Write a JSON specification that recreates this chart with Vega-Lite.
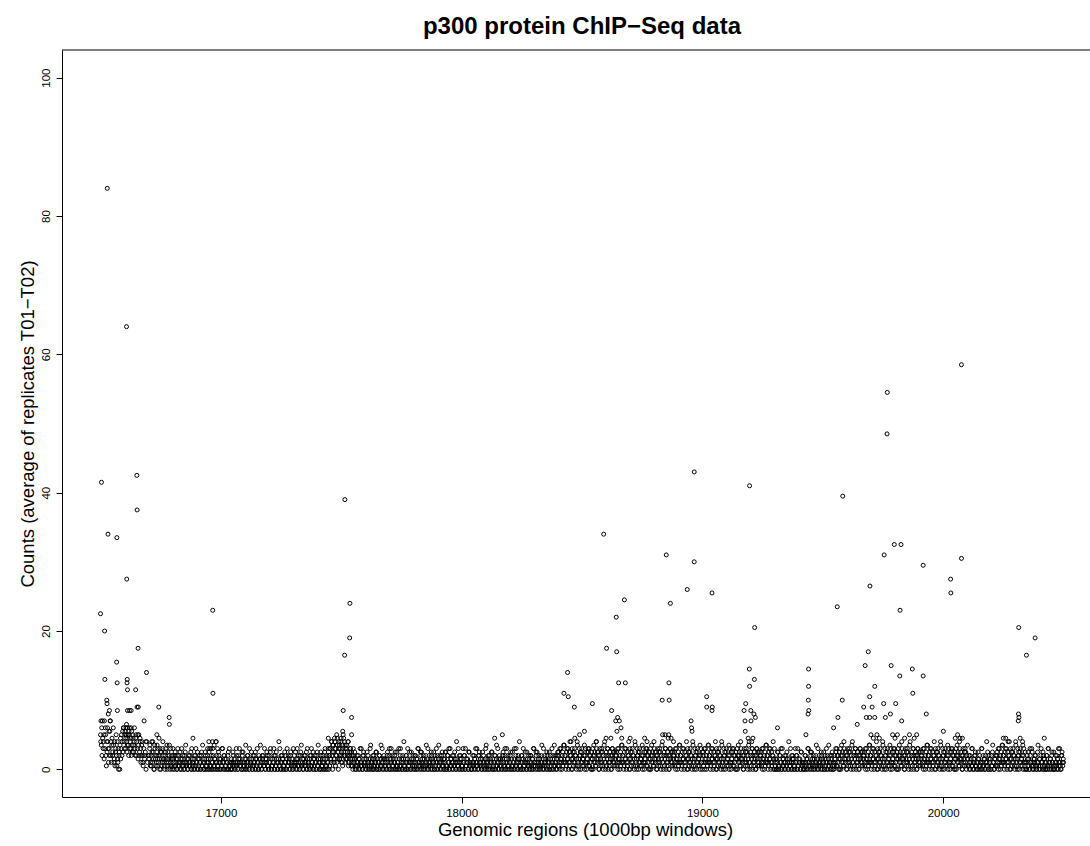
{
"$schema": "https://vega.github.io/schema/vega-lite/v6.json",
"width": 1028, "height": 747,
"autosize": {"type": "none"},
"padding": {"left": 62, "top": 50, "right": 0, "bottom": 49},
"background": "white",
"config": {"view": {"stroke": null}, "font": "Liberation Sans"},
"title": {"text": "p300 protein ChIP−Seq data", "fontSize": 24, "fontWeight": "bold", "font": "Liberation Sans", "color": "black", "anchor": "middle", "baseline": "alphabetic", "offset": 17, "dx": 6, "dy": 25},
"layer": [
{"data": {"values": [
{"x":16500,"y":5},{"x":16501,"y":4},{"x":16503,"y":3.5},{"x":16505,"y":6},{"x":16506,"y":2},{"x":16508,"y":7},{"x":16509,"y":4.5},{"x":16511,"y":3},{"x":16512,"y":4},{"x":16514,"y":5},{"x":16515,"y":1.5},{"x":16518,"y":3},{"x":16520,"y":6},{"x":16521,"y":5},{"x":16523,"y":2},{"x":16524,"y":0.5},{"x":16526,"y":4},{"x":16527,"y":2.5},{"x":16529,"y":6},{"x":16530,"y":4},{"x":16532,"y":3},{"x":16533,"y":1},{"x":16535,"y":5.5},{"x":16536,"y":3},{"x":16538,"y":2},{"x":16539,"y":5.5},{"x":16541,"y":7},{"x":16542,"y":2},{"x":16544,"y":4},{"x":16545,"y":1},{"x":16547,"y":3.5},{"x":16548,"y":4.5},{"x":16550,"y":2},{"x":16551,"y":2.5},{"x":16553,"y":6},{"x":16554,"y":3.5},{"x":16556,"y":1},{"x":16557,"y":1.5},{"x":16559,"y":4},{"x":16560,"y":0.5},{"x":16562,"y":2.5},{"x":16563,"y":3},{"x":16565,"y":5},{"x":16566,"y":2},{"x":16568,"y":0.5},{"x":16569,"y":4},{"x":16571,"y":1.5},{"x":16572,"y":1},{"x":16574,"y":3},{"x":16575,"y":0},{"x":16577,"y":2},{"x":16578,"y":2.5},{"x":16580,"y":0},{"x":16581,"y":3.5},{"x":16583,"y":4.5},{"x":16584,"y":1.5},{"x":16586,"y":3},{"x":16587,"y":5},{"x":16589,"y":2},{"x":16590,"y":4},{"x":16592,"y":5.5},{"x":16593,"y":2.5},{"x":16595,"y":6},{"x":16596,"y":6},{"x":16598,"y":4},{"x":16599,"y":3},{"x":16601,"y":5},{"x":16602,"y":5.5},{"x":16604,"y":3},{"x":16605,"y":4.5},{"x":16606,"y":6},{"x":16607,"y":5},{"x":16608,"y":6.5},{"x":16609,"y":4},{"x":16610,"y":2.5},{"x":16611,"y":3.5},{"x":16612,"y":6},{"x":16613,"y":4.5},{"x":16614,"y":5},{"x":16616,"y":3.5},{"x":16617,"y":2},{"x":16618,"y":5.5},{"x":16619,"y":5},{"x":16620,"y":6},{"x":16622,"y":3},{"x":16623,"y":4},{"x":16625,"y":4.5},{"x":16626,"y":3},{"x":16627,"y":6},{"x":16628,"y":2},{"x":16629,"y":5.5},{"x":16631,"y":3.5},{"x":16632,"y":2.5},{"x":16634,"y":5},{"x":16635,"y":4.5},{"x":16637,"y":2.5},{"x":16638,"y":3.5},{"x":16640,"y":4},{"x":16641,"y":6},{"x":16643,"y":3},{"x":16644,"y":2},{"x":16646,"y":4.5},{"x":16647,"y":5},{"x":16649,"y":2},{"x":16650,"y":4},{"x":16653,"y":3},{"x":16655,"y":5},{"x":16656,"y":1.5},{"x":16658,"y":3.5},{"x":16659,"y":5},{"x":16661,"y":2},{"x":16662,"y":2.5},{"x":16664,"y":4.5},{"x":16665,"y":4},{"x":16667,"y":3},{"x":16668,"y":1},{"x":16670,"y":2},{"x":16671,"y":3.5},{"x":16673,"y":4},{"x":16674,"y":2},{"x":16676,"y":1},{"x":16677,"y":0.5},{"x":16680,"y":3},{"x":16682,"y":2},{"x":16683,"y":1.5},{"x":16686,"y":2.5},{"x":16688,"y":4},{"x":16689,"y":0},{"x":16692,"y":4},{"x":16695,"y":1},{"x":16698,"y":2},
{"x":16701,"y":1.5},{"x":16704,"y":3},{"x":16707,"y":0.5},{"x":16710,"y":2},{"x":16713,"y":4},{"x":16716,"y":1},{"x":16719,"y":2.5},{"x":16722,"y":0},{"x":16725,"y":3.5},{"x":16728,"y":1.5},{"x":16731,"y":0.5},{"x":16734,"y":2},{"x":16737,"y":3},{"x":16740,"y":1},{"x":16743,"y":4.5},{"x":16746,"y":0},{"x":16749,"y":2.5},{"x":16752,"y":1.5},{"x":16755,"y":0.5},{"x":16758,"y":3},{"x":16761,"y":2},{"x":16764,"y":1},{"x":16767,"y":0},{"x":16770,"y":2.5},{"x":16773,"y":1.5},{"x":16776,"y":3.5},{"x":16779,"y":0.5},{"x":16782,"y":1},{"x":16785,"y":2},{"x":16788,"y":0},{"x":16791,"y":3},{"x":16794,"y":1.5},{"x":16797,"y":0.5},{"x":16800,"y":2},
{"x":16803,"y":1},{"x":16806,"y":0},{"x":16809,"y":2},{"x":16812,"y":0.5},{"x":16815,"y":1.5},{"x":16818,"y":0},{"x":16821,"y":3},{"x":16824,"y":1},{"x":16827,"y":0.5},{"x":16830,"y":2.5},{"x":16833,"y":1},{"x":16836,"y":0},{"x":16839,"y":1.5},{"x":16842,"y":2},{"x":16845,"y":0.5},{"x":16848,"y":0},{"x":16851,"y":1},{"x":16854,"y":3.5},{"x":16857,"y":0.5},{"x":16860,"y":1.5},{"x":16863,"y":0},{"x":16866,"y":2},{"x":16869,"y":1},{"x":16872,"y":0.5},{"x":16875,"y":2.5},{"x":16878,"y":0},{"x":16881,"y":1.5},{"x":16884,"y":1},{"x":16887,"y":0},{"x":16890,"y":2},{"x":16893,"y":0.5},{"x":16896,"y":3},{"x":16899,"y":1},{"x":16902,"y":0},{"x":16905,"y":1.5},{"x":16908,"y":0.5},{"x":16911,"y":2},{"x":16914,"y":1},{"x":16917,"y":0},{"x":16920,"y":2.5},
{"x":16923,"y":0.5},{"x":16926,"y":1.5},{"x":16929,"y":0},{"x":16932,"y":1},{"x":16935,"y":2.5},{"x":16938,"y":0},{"x":16941,"y":0.5},{"x":16944,"y":2},{"x":16947,"y":1},{"x":16950,"y":0},{"x":16953,"y":3},{"x":16956,"y":1.5},{"x":16959,"y":0.5},{"x":16962,"y":0},{"x":16965,"y":1},{"x":16968,"y":2},{"x":16971,"y":0.5},{"x":16974,"y":1.5},{"x":16977,"y":0},{"x":16980,"y":4},{"x":16983,"y":1},{"x":16986,"y":0.5},{"x":16989,"y":0},{"x":16992,"y":2},{"x":16995,"y":1.5},{"x":16998,"y":1},{"x":17001,"y":0},{"x":17004,"y":0.5},{"x":17007,"y":3},{"x":17010,"y":1},{"x":17013,"y":2},{"x":17016,"y":0},{"x":17019,"y":0.5},{"x":17022,"y":1.5},{"x":17025,"y":1},{"x":17028,"y":0},{"x":17031,"y":2.5},{"x":17034,"y":0.5},{"x":17037,"y":1},{"x":17040,"y":0},
{"x":17043,"y":0},{"x":17046,"y":1},{"x":17049,"y":0.5},{"x":17052,"y":2},{"x":17055,"y":1.5},{"x":17058,"y":0},{"x":17061,"y":1},{"x":17064,"y":3},{"x":17067,"y":0.5},{"x":17070,"y":0},{"x":17073,"y":2},{"x":17076,"y":1},{"x":17079,"y":1.5},{"x":17082,"y":0.5},{"x":17085,"y":0},{"x":17088,"y":2.5},{"x":17091,"y":1},{"x":17094,"y":0},{"x":17097,"y":0.5},{"x":17100,"y":1.5},{"x":17103,"y":3.5},{"x":17106,"y":0},{"x":17109,"y":1},{"x":17112,"y":2},{"x":17115,"y":0.5},{"x":17118,"y":0},{"x":17121,"y":1.5},{"x":17124,"y":1},{"x":17127,"y":2.5},{"x":17130,"y":0},{"x":17133,"y":0.5},{"x":17136,"y":1},{"x":17139,"y":2},{"x":17142,"y":0},{"x":17145,"y":1.5},{"x":17148,"y":0.5},{"x":17151,"y":3},{"x":17154,"y":1},{"x":17157,"y":0},{"x":17160,"y":1.5},
{"x":17163,"y":1.5},{"x":17166,"y":0.5},{"x":17169,"y":0},{"x":17172,"y":2},{"x":17175,"y":1},{"x":17178,"y":0.5},{"x":17181,"y":3},{"x":17184,"y":0},{"x":17187,"y":1.5},{"x":17190,"y":1},{"x":17193,"y":2},{"x":17196,"y":0.5},{"x":17199,"y":0},{"x":17202,"y":1},{"x":17205,"y":2.5},{"x":17208,"y":1.5},{"x":17211,"y":0},{"x":17214,"y":0.5},{"x":17217,"y":1},{"x":17220,"y":3},{"x":17223,"y":0},{"x":17226,"y":2},{"x":17229,"y":0.5},{"x":17232,"y":1.5},{"x":17235,"y":0},{"x":17238,"y":1},{"x":17241,"y":4},{"x":17244,"y":0.5},{"x":17247,"y":0},{"x":17250,"y":2},{"x":17253,"y":1},{"x":17256,"y":1.5},{"x":17259,"y":0},{"x":17262,"y":0.5},{"x":17265,"y":2.5},{"x":17268,"y":1},{"x":17271,"y":0},{"x":17274,"y":1.5},{"x":17277,"y":0.5},{"x":17280,"y":2},
{"x":17283,"y":1},{"x":17286,"y":0},{"x":17289,"y":2},{"x":17292,"y":0.5},{"x":17295,"y":1.5},{"x":17298,"y":0},{"x":17301,"y":3},{"x":17304,"y":1},{"x":17307,"y":0.5},{"x":17310,"y":2.5},{"x":17313,"y":1},{"x":17316,"y":0},{"x":17319,"y":1.5},{"x":17322,"y":2},{"x":17325,"y":0.5},{"x":17328,"y":0},{"x":17331,"y":1},{"x":17334,"y":3.5},{"x":17337,"y":0.5},{"x":17340,"y":1.5},{"x":17343,"y":0},{"x":17346,"y":2},{"x":17349,"y":1},{"x":17352,"y":0.5},{"x":17355,"y":2.5},{"x":17358,"y":0},{"x":17361,"y":1.5},{"x":17364,"y":1},{"x":17367,"y":0},{"x":17370,"y":2},{"x":17373,"y":0.5},{"x":17376,"y":3},{"x":17379,"y":1},{"x":17382,"y":0},{"x":17385,"y":1.5},{"x":17388,"y":0.5},{"x":17391,"y":2},{"x":17394,"y":1},{"x":17397,"y":0},{"x":17400,"y":2.5},
{"x":17403,"y":0.5},{"x":17406,"y":1.5},{"x":17409,"y":0},{"x":17412,"y":1},{"x":17415,"y":2.5},{"x":17418,"y":0},{"x":17421,"y":0.5},{"x":17424,"y":2},{"x":17427,"y":1},{"x":17430,"y":0},{"x":17433,"y":3},{"x":17436,"y":1.5},{"x":17439,"y":0.5},{"x":17442,"y":0},{"x":17445,"y":1},{"x":17448,"y":2},
{"x":17451,"y":2},{"x":17454,"y":3},{"x":17457,"y":1.5},{"x":17460,"y":4},{"x":17463,"y":2.5},{"x":17466,"y":3.5},{"x":17469,"y":1},{"x":17472,"y":4.5},{"x":17475,"y":3},{"x":17478,"y":2},{"x":17481,"y":5},{"x":17484,"y":3.5},{"x":17487,"y":2.5},{"x":17490,"y":4},{"x":17493,"y":1.5},{"x":17496,"y":3},{"x":17499,"y":4.5},{"x":17502,"y":2},{"x":17505,"y":3.5},{"x":17508,"y":5},{"x":17511,"y":2.5},{"x":17514,"y":4},{"x":17517,"y":3},{"x":17520,"y":1.5},{"x":17523,"y":3.5},{"x":17526,"y":2},{"x":17529,"y":4},{"x":17532,"y":1},{"x":17535,"y":2.5},{"x":17538,"y":3},{"x":17541,"y":0.5},{"x":17544,"y":2},{"x":17547,"y":1.5},{"x":17550,"y":3},{"x":17553,"y":1},{"x":17556,"y":2.5},{"x":17559,"y":0.5},
{"x":17452,"y":0.5},{"x":17458,"y":1},{"x":17464,"y":0},{"x":17470,"y":1.5},{"x":17476,"y":0.5},{"x":17482,"y":1},{"x":17488,"y":0},{"x":17494,"y":1.5},{"x":17500,"y":1},{"x":17506,"y":0.5},{"x":17512,"y":2},{"x":17518,"y":1},{"x":17524,"y":1.5},{"x":17530,"y":0.5},{"x":17536,"y":2},{"x":17542,"y":1},{"x":17548,"y":0},{"x":17554,"y":1.5},
{"x":17562,"y":0},{"x":17565,"y":1},{"x":17568,"y":0.5},{"x":17571,"y":2},{"x":17574,"y":1.5},{"x":17577,"y":0},{"x":17580,"y":1},{"x":17583,"y":3},{"x":17586,"y":0.5},{"x":17589,"y":0},{"x":17592,"y":2},{"x":17595,"y":1},{"x":17598,"y":1.5},{"x":17601,"y":0.5},{"x":17604,"y":0},{"x":17607,"y":2.5},{"x":17610,"y":1},{"x":17613,"y":0},{"x":17616,"y":0.5},{"x":17619,"y":1.5},{"x":17622,"y":3.5},{"x":17625,"y":0},{"x":17628,"y":1},{"x":17631,"y":2},{"x":17634,"y":0.5},{"x":17637,"y":0},{"x":17640,"y":1.5},{"x":17643,"y":1},{"x":17646,"y":2.5},{"x":17649,"y":0},{"x":17652,"y":0.5},{"x":17655,"y":1},{"x":17658,"y":2},{"x":17661,"y":0},{"x":17664,"y":1.5},{"x":17667,"y":0.5},{"x":17670,"y":3},{"x":17673,"y":1},{"x":17676,"y":0},{"x":17679,"y":1.5},
{"x":17682,"y":1.5},{"x":17685,"y":0.5},{"x":17688,"y":0},{"x":17691,"y":2},{"x":17694,"y":1},{"x":17697,"y":0.5},{"x":17700,"y":3},{"x":17703,"y":0},{"x":17706,"y":1.5},{"x":17709,"y":1},{"x":17712,"y":2},{"x":17715,"y":0.5},{"x":17718,"y":0},{"x":17721,"y":1},{"x":17724,"y":2.5},{"x":17727,"y":1.5},{"x":17730,"y":0},{"x":17733,"y":0.5},{"x":17736,"y":1},{"x":17739,"y":3},{"x":17742,"y":0},{"x":17745,"y":2},{"x":17748,"y":0.5},{"x":17751,"y":1.5},{"x":17754,"y":0},{"x":17757,"y":1},{"x":17760,"y":4},{"x":17763,"y":0.5},{"x":17766,"y":0},{"x":17769,"y":2},{"x":17772,"y":1},{"x":17775,"y":1.5},{"x":17778,"y":0},{"x":17781,"y":0.5},{"x":17784,"y":2.5},{"x":17787,"y":1},{"x":17790,"y":0},{"x":17793,"y":1.5},{"x":17796,"y":0.5},{"x":17799,"y":2},
{"x":17802,"y":1},{"x":17805,"y":0},{"x":17808,"y":2},{"x":17811,"y":0.5},{"x":17814,"y":1.5},{"x":17817,"y":0},{"x":17820,"y":3},{"x":17823,"y":1},{"x":17826,"y":0.5},{"x":17829,"y":2.5},{"x":17832,"y":1},{"x":17835,"y":0},{"x":17838,"y":1.5},{"x":17841,"y":2},{"x":17844,"y":0.5},{"x":17847,"y":0},{"x":17850,"y":1},{"x":17853,"y":3.5},{"x":17856,"y":0.5},{"x":17859,"y":1.5},{"x":17862,"y":0},{"x":17865,"y":2},{"x":17868,"y":1},{"x":17871,"y":0.5},{"x":17874,"y":2.5},{"x":17877,"y":0},{"x":17880,"y":1.5},{"x":17883,"y":1},{"x":17886,"y":0},{"x":17889,"y":2},{"x":17892,"y":0.5},{"x":17895,"y":3},{"x":17898,"y":1},{"x":17901,"y":0},{"x":17904,"y":1.5},{"x":17907,"y":0.5},{"x":17910,"y":2},{"x":17913,"y":1},{"x":17916,"y":0},{"x":17919,"y":2.5},
{"x":17922,"y":0.5},{"x":17925,"y":1.5},{"x":17928,"y":0},{"x":17931,"y":1},{"x":17934,"y":2.5},{"x":17937,"y":0},{"x":17940,"y":0.5},{"x":17943,"y":2},{"x":17946,"y":1},{"x":17949,"y":0},{"x":17952,"y":3},{"x":17955,"y":1.5},{"x":17958,"y":0.5},{"x":17961,"y":0},{"x":17964,"y":1},{"x":17967,"y":2},{"x":17970,"y":0.5},{"x":17973,"y":1.5},{"x":17976,"y":0},{"x":17979,"y":4},{"x":17982,"y":1},{"x":17985,"y":0.5},{"x":17988,"y":0},{"x":17991,"y":2},{"x":17994,"y":1.5},{"x":17997,"y":1},{"x":18000,"y":0},{"x":18003,"y":0.5},{"x":18006,"y":3},{"x":18009,"y":1},{"x":18012,"y":2},{"x":18015,"y":0},{"x":18018,"y":0.5},{"x":18021,"y":1.5},{"x":18024,"y":1},{"x":18027,"y":0},{"x":18030,"y":2.5},{"x":18033,"y":0.5},{"x":18036,"y":1},{"x":18039,"y":0},
{"x":18042,"y":0},{"x":18045,"y":1},{"x":18048,"y":0.5},{"x":18051,"y":2},{"x":18054,"y":1.5},{"x":18057,"y":0},{"x":18060,"y":1},{"x":18063,"y":3},{"x":18066,"y":0.5},{"x":18069,"y":0},{"x":18072,"y":2},{"x":18075,"y":1},{"x":18078,"y":1.5},{"x":18081,"y":0.5},{"x":18084,"y":0},{"x":18087,"y":2.5},{"x":18090,"y":1},{"x":18093,"y":0},{"x":18096,"y":0.5},{"x":18099,"y":1.5},{"x":18102,"y":3.5},{"x":18105,"y":0},{"x":18108,"y":1},{"x":18111,"y":2},{"x":18114,"y":0.5},{"x":18117,"y":0},{"x":18120,"y":1.5},{"x":18123,"y":1},{"x":18126,"y":2.5},{"x":18129,"y":0},{"x":18132,"y":0.5},{"x":18135,"y":1},{"x":18138,"y":2},{"x":18141,"y":0},{"x":18144,"y":1.5},{"x":18147,"y":0.5},{"x":18150,"y":3},{"x":18153,"y":1},{"x":18156,"y":0},{"x":18159,"y":1.5},
{"x":18162,"y":1.5},{"x":18165,"y":0.5},{"x":18168,"y":0},{"x":18171,"y":2},{"x":18174,"y":1},{"x":18177,"y":0.5},{"x":18180,"y":3},{"x":18183,"y":0},{"x":18186,"y":1.5},{"x":18189,"y":1},{"x":18192,"y":2},{"x":18195,"y":0.5},{"x":18198,"y":0},{"x":18201,"y":1},{"x":18204,"y":2.5},{"x":18207,"y":1.5},{"x":18210,"y":0},{"x":18213,"y":0.5},{"x":18216,"y":1},{"x":18219,"y":3},{"x":18222,"y":0},{"x":18225,"y":2},{"x":18228,"y":0.5},{"x":18231,"y":1.5},{"x":18234,"y":0},{"x":18237,"y":1},{"x":18240,"y":4},{"x":18243,"y":0.5},{"x":18246,"y":0},{"x":18249,"y":2},{"x":18252,"y":1},{"x":18255,"y":1.5},{"x":18258,"y":0},{"x":18261,"y":0.5},{"x":18264,"y":2.5},{"x":18267,"y":1},{"x":18270,"y":0},{"x":18273,"y":1.5},{"x":18276,"y":0.5},{"x":18279,"y":2},
{"x":18282,"y":1},{"x":18285,"y":0},{"x":18288,"y":2},{"x":18291,"y":0.5},{"x":18294,"y":1.5},{"x":18297,"y":0},{"x":18300,"y":3},{"x":18303,"y":1},{"x":18306,"y":0.5},{"x":18309,"y":2.5},{"x":18312,"y":1},{"x":18315,"y":0},{"x":18318,"y":1.5},{"x":18321,"y":2},{"x":18324,"y":0.5},{"x":18327,"y":0},{"x":18330,"y":1},{"x":18333,"y":3.5},{"x":18336,"y":0.5},{"x":18339,"y":1.5},{"x":18342,"y":0},{"x":18345,"y":2},{"x":18348,"y":1},{"x":18351,"y":0.5},{"x":18354,"y":2.5},{"x":18357,"y":0},{"x":18360,"y":1.5},{"x":18363,"y":1},{"x":18366,"y":0},{"x":18369,"y":2},{"x":18372,"y":0.5},{"x":18375,"y":3},{"x":18378,"y":1},{"x":18381,"y":0},{"x":18384,"y":1.5},{"x":18387,"y":0.5},{"x":18390,"y":2},{"x":18393,"y":1},{"x":18396,"y":0},{"x":18399,"y":2.5},
{"x":18402,"y":2},{"x":18405,"y":0.5},{"x":18408,"y":3},{"x":18411,"y":1.5},{"x":18414,"y":1},{"x":18417,"y":0},{"x":18420,"y":2.5},{"x":18423,"y":1},{"x":18426,"y":3.5},{"x":18429,"y":2},{"x":18432,"y":1},{"x":18435,"y":0.5},{"x":18438,"y":3},{"x":18441,"y":1.5},{"x":18444,"y":0},{"x":18447,"y":2.5},{"x":18450,"y":1},{"x":18453,"y":2},{"x":18456,"y":0},{"x":18459,"y":3},{"x":18462,"y":1.5},{"x":18465,"y":0.5},{"x":18468,"y":2.5},{"x":18471,"y":1},{"x":18474,"y":2},{"x":18477,"y":0},{"x":18480,"y":4},{"x":18483,"y":0.5},{"x":18486,"y":1.5},{"x":18489,"y":3},{"x":18492,"y":2},{"x":18495,"y":0},{"x":18498,"y":2.5},{"x":18501,"y":1},{"x":18504,"y":1.5},{"x":18507,"y":0.5},{"x":18510,"y":3.5},{"x":18513,"y":2},{"x":18516,"y":1},{"x":18519,"y":0},
{"x":18522,"y":1.5},{"x":18525,"y":3},{"x":18528,"y":0.5},{"x":18531,"y":2},{"x":18534,"y":1},{"x":18537,"y":0},{"x":18540,"y":2.5},{"x":18543,"y":1.5},{"x":18546,"y":0},{"x":18549,"y":3.5},{"x":18552,"y":2},{"x":18555,"y":1},{"x":18558,"y":0.5},{"x":18561,"y":3},{"x":18564,"y":2.5},{"x":18567,"y":1.5},{"x":18570,"y":0},{"x":18573,"y":2},{"x":18576,"y":1},{"x":18579,"y":0.5},{"x":18582,"y":3},{"x":18585,"y":2.5},{"x":18588,"y":0},{"x":18591,"y":1.5},{"x":18594,"y":4},{"x":18597,"y":1},{"x":18600,"y":2},{"x":18603,"y":0.5},{"x":18606,"y":3},{"x":18609,"y":0},{"x":18612,"y":1},{"x":18615,"y":2.5},{"x":18618,"y":1.5},{"x":18621,"y":0},{"x":18624,"y":2},{"x":18627,"y":3},{"x":18630,"y":1},{"x":18633,"y":0.5},{"x":18636,"y":2.5},{"x":18639,"y":1.5},
{"x":18642,"y":2},{"x":18645,"y":0.5},{"x":18648,"y":3},{"x":18651,"y":1.5},{"x":18654,"y":1},{"x":18657,"y":0},{"x":18660,"y":2.5},{"x":18663,"y":1},{"x":18666,"y":3.5},{"x":18669,"y":2},{"x":18672,"y":1},{"x":18675,"y":0.5},{"x":18678,"y":3},{"x":18681,"y":1.5},{"x":18684,"y":0},{"x":18687,"y":2.5},{"x":18690,"y":1},{"x":18693,"y":2},{"x":18696,"y":0},{"x":18699,"y":3},{"x":18702,"y":1.5},{"x":18705,"y":0.5},{"x":18708,"y":2.5},{"x":18711,"y":1},{"x":18714,"y":2},{"x":18717,"y":0},{"x":18720,"y":4},{"x":18723,"y":0.5},{"x":18726,"y":1.5},{"x":18729,"y":3},{"x":18732,"y":2},{"x":18735,"y":0},{"x":18738,"y":2.5},{"x":18741,"y":1},{"x":18744,"y":1.5},{"x":18747,"y":0.5},{"x":18750,"y":3.5},{"x":18753,"y":2},{"x":18756,"y":1},{"x":18759,"y":0},
{"x":18762,"y":1.5},{"x":18765,"y":3},{"x":18768,"y":0.5},{"x":18771,"y":2},{"x":18774,"y":1},{"x":18777,"y":0},{"x":18780,"y":2.5},{"x":18783,"y":1.5},{"x":18786,"y":0},{"x":18789,"y":3.5},{"x":18792,"y":2},{"x":18795,"y":1},{"x":18798,"y":0.5},{"x":18801,"y":3},{"x":18804,"y":2.5},{"x":18807,"y":1.5},{"x":18810,"y":0},{"x":18813,"y":2},{"x":18816,"y":1},{"x":18819,"y":0.5},{"x":18822,"y":3},{"x":18825,"y":2.5},{"x":18828,"y":0},{"x":18831,"y":1.5},{"x":18834,"y":4},{"x":18837,"y":1},{"x":18840,"y":2},{"x":18843,"y":0.5},{"x":18846,"y":3},{"x":18849,"y":0},{"x":18852,"y":1},{"x":18855,"y":2.5},{"x":18858,"y":1.5},{"x":18861,"y":0},{"x":18864,"y":2},{"x":18867,"y":3},{"x":18870,"y":1},{"x":18873,"y":0.5},{"x":18876,"y":2.5},{"x":18879,"y":1.5},
{"x":18882,"y":2},{"x":18885,"y":0.5},{"x":18888,"y":3},{"x":18891,"y":1.5},{"x":18894,"y":1},{"x":18897,"y":0},{"x":18900,"y":2.5},{"x":18903,"y":1},{"x":18906,"y":3.5},{"x":18909,"y":2},{"x":18912,"y":1},{"x":18915,"y":0.5},{"x":18918,"y":3},{"x":18921,"y":1.5},{"x":18924,"y":0},{"x":18927,"y":2.5},{"x":18930,"y":1},{"x":18933,"y":2},{"x":18936,"y":0},{"x":18939,"y":3},{"x":18942,"y":1.5},{"x":18945,"y":0.5},{"x":18948,"y":2.5},{"x":18951,"y":1},{"x":18954,"y":2},{"x":18957,"y":0},{"x":18960,"y":4},{"x":18963,"y":0.5},{"x":18966,"y":1.5},{"x":18969,"y":3},{"x":18972,"y":2},{"x":18975,"y":0},{"x":18978,"y":2.5},{"x":18981,"y":1},{"x":18984,"y":1.5},{"x":18987,"y":0.5},{"x":18990,"y":3.5},{"x":18993,"y":2},{"x":18996,"y":1},{"x":18999,"y":0},
{"x":19002,"y":2},{"x":19005,"y":0.5},{"x":19008,"y":3},{"x":19011,"y":1.5},{"x":19014,"y":1},{"x":19017,"y":0},{"x":19020,"y":2.5},{"x":19023,"y":1},{"x":19026,"y":3.5},{"x":19029,"y":2},{"x":19032,"y":1},{"x":19035,"y":0.5},{"x":19038,"y":3},{"x":19041,"y":1.5},{"x":19044,"y":0},{"x":19047,"y":2.5},{"x":19050,"y":1},{"x":19053,"y":2},{"x":19056,"y":0},{"x":19059,"y":3},{"x":19062,"y":1.5},{"x":19065,"y":0.5},{"x":19068,"y":2.5},{"x":19071,"y":1},{"x":19074,"y":2},{"x":19077,"y":0},{"x":19080,"y":4},{"x":19083,"y":0.5},{"x":19086,"y":1.5},{"x":19089,"y":3},{"x":19092,"y":2},{"x":19095,"y":0},{"x":19098,"y":2.5},{"x":19101,"y":1},{"x":19104,"y":1.5},{"x":19107,"y":0.5},{"x":19110,"y":3.5},{"x":19113,"y":2},{"x":19116,"y":1},{"x":19119,"y":0},
{"x":19122,"y":1.5},{"x":19125,"y":3},{"x":19128,"y":0.5},{"x":19131,"y":2},{"x":19134,"y":1},{"x":19137,"y":0},{"x":19140,"y":2.5},{"x":19143,"y":1.5},{"x":19146,"y":0},{"x":19149,"y":3.5},{"x":19152,"y":2},{"x":19155,"y":1},{"x":19158,"y":0.5},{"x":19161,"y":3},{"x":19164,"y":2.5},{"x":19167,"y":1.5},{"x":19170,"y":0},{"x":19173,"y":2},{"x":19176,"y":1},{"x":19179,"y":0.5},{"x":19182,"y":3},{"x":19185,"y":2.5},{"x":19188,"y":0},{"x":19191,"y":1.5},{"x":19194,"y":4},{"x":19197,"y":1},{"x":19200,"y":2},{"x":19203,"y":0.5},{"x":19206,"y":3},{"x":19209,"y":0},{"x":19212,"y":1},{"x":19215,"y":2.5},{"x":19218,"y":1.5},{"x":19221,"y":0},{"x":19224,"y":2},{"x":19227,"y":3},{"x":19230,"y":1},{"x":19233,"y":0.5},{"x":19236,"y":2.5},{"x":19239,"y":1.5},
{"x":19242,"y":2},{"x":19245,"y":0.5},{"x":19248,"y":3},{"x":19251,"y":1.5},{"x":19254,"y":1},{"x":19257,"y":0},{"x":19260,"y":2.5},{"x":19263,"y":1},{"x":19266,"y":3.5},{"x":19269,"y":2},{"x":19272,"y":1},{"x":19275,"y":0.5},{"x":19278,"y":3},{"x":19281,"y":1.5},{"x":19284,"y":0},{"x":19287,"y":2.5},{"x":19290,"y":1},{"x":19293,"y":2},{"x":19296,"y":0},{"x":19299,"y":3},
{"x":19302,"y":0.5},{"x":19305,"y":1.5},{"x":19308,"y":0},{"x":19311,"y":1},{"x":19314,"y":2.5},{"x":19317,"y":0},{"x":19320,"y":0.5},{"x":19323,"y":2},{"x":19326,"y":1},{"x":19329,"y":0},{"x":19332,"y":3},{"x":19335,"y":1.5},{"x":19338,"y":0.5},{"x":19341,"y":0},{"x":19344,"y":1},{"x":19347,"y":2},{"x":19350,"y":0.5},{"x":19353,"y":1.5},{"x":19356,"y":0},{"x":19359,"y":4},{"x":19362,"y":1},{"x":19365,"y":0.5},{"x":19368,"y":0},{"x":19371,"y":2},{"x":19374,"y":1.5},{"x":19377,"y":1},{"x":19380,"y":0},{"x":19383,"y":0.5},{"x":19386,"y":3},{"x":19389,"y":1},{"x":19392,"y":2},{"x":19395,"y":0},{"x":19398,"y":0.5},{"x":19401,"y":1.5},{"x":19404,"y":1},{"x":19407,"y":0},{"x":19410,"y":2.5},{"x":19413,"y":0.5},{"x":19416,"y":1},{"x":19419,"y":0},
{"x":19422,"y":1},{"x":19425,"y":0},{"x":19428,"y":2},{"x":19431,"y":0.5},{"x":19434,"y":1.5},{"x":19437,"y":0},{"x":19440,"y":3},{"x":19443,"y":1},{"x":19446,"y":0.5},{"x":19449,"y":2.5},{"x":19452,"y":1},{"x":19455,"y":0},{"x":19458,"y":1.5},{"x":19461,"y":2},{"x":19464,"y":0.5},{"x":19467,"y":0},{"x":19470,"y":1},{"x":19473,"y":3.5},{"x":19476,"y":0.5},{"x":19479,"y":1.5},{"x":19482,"y":0},{"x":19485,"y":2},{"x":19488,"y":1},{"x":19491,"y":0.5},{"x":19494,"y":2.5},{"x":19497,"y":0},{"x":19500,"y":1.5},{"x":19503,"y":1},{"x":19506,"y":0},{"x":19509,"y":2},{"x":19512,"y":0.5},{"x":19515,"y":3},{"x":19518,"y":1},{"x":19521,"y":0},{"x":19524,"y":1.5},{"x":19527,"y":0.5},{"x":19530,"y":2},{"x":19533,"y":1},{"x":19536,"y":0},{"x":19539,"y":2.5},{"x":19542,"y":0},{"x":19545,"y":1},{"x":19548,"y":0.5},
{"x":19551,"y":1.5},{"x":19554,"y":3},{"x":19557,"y":0.5},{"x":19560,"y":2},{"x":19563,"y":1},{"x":19566,"y":0},{"x":19569,"y":2.5},{"x":19572,"y":1.5},{"x":19575,"y":0},{"x":19578,"y":3.5},{"x":19581,"y":2},{"x":19584,"y":1},{"x":19587,"y":0.5},{"x":19590,"y":3},{"x":19593,"y":2.5},{"x":19596,"y":1.5},{"x":19599,"y":0},{"x":19602,"y":2},{"x":19605,"y":1},{"x":19608,"y":0.5},{"x":19611,"y":3},{"x":19614,"y":2.5},{"x":19617,"y":0},{"x":19620,"y":1.5},{"x":19623,"y":4},{"x":19626,"y":1},{"x":19629,"y":2},{"x":19632,"y":0.5},{"x":19635,"y":3},{"x":19638,"y":0},{"x":19641,"y":1},{"x":19644,"y":2.5},{"x":19647,"y":1.5},{"x":19650,"y":0},{"x":19653,"y":2},{"x":19656,"y":3},{"x":19659,"y":1},{"x":19662,"y":0.5},{"x":19665,"y":2.5},{"x":19668,"y":1.5},
{"x":19671,"y":2},{"x":19674,"y":0.5},{"x":19677,"y":3},{"x":19680,"y":1.5},{"x":19683,"y":1},{"x":19686,"y":0},{"x":19689,"y":2.5},{"x":19692,"y":1},{"x":19695,"y":3.5},{"x":19698,"y":2},{"x":19701,"y":1},{"x":19704,"y":0.5},{"x":19707,"y":3},{"x":19710,"y":1.5},{"x":19713,"y":0},{"x":19716,"y":2.5},{"x":19719,"y":1},{"x":19722,"y":2},{"x":19725,"y":0},{"x":19728,"y":3},{"x":19731,"y":1.5},{"x":19734,"y":0.5},{"x":19737,"y":2.5},{"x":19740,"y":1},{"x":19743,"y":2},{"x":19746,"y":0},{"x":19749,"y":4},{"x":19752,"y":0.5},{"x":19755,"y":1.5},{"x":19758,"y":3},{"x":19761,"y":2},{"x":19764,"y":0},{"x":19767,"y":2.5},{"x":19770,"y":1},{"x":19773,"y":1.5},{"x":19776,"y":0.5},{"x":19779,"y":3.5},{"x":19782,"y":2},{"x":19785,"y":1},{"x":19788,"y":0},
{"x":19791,"y":1.5},{"x":19794,"y":3},{"x":19797,"y":0.5},{"x":19800,"y":2},{"x":19803,"y":1},{"x":19806,"y":0},{"x":19809,"y":2.5},{"x":19812,"y":1.5},{"x":19815,"y":0},{"x":19818,"y":3.5},{"x":19821,"y":2},{"x":19824,"y":1},{"x":19827,"y":0.5},{"x":19830,"y":3},{"x":19833,"y":2.5},{"x":19836,"y":1.5},{"x":19839,"y":0},{"x":19842,"y":2},{"x":19845,"y":1},{"x":19848,"y":0.5},{"x":19851,"y":3},{"x":19854,"y":2.5},{"x":19857,"y":0},{"x":19860,"y":1.5},{"x":19863,"y":4},{"x":19866,"y":1},{"x":19869,"y":2},{"x":19872,"y":0.5},{"x":19875,"y":3},{"x":19878,"y":0},{"x":19881,"y":1},{"x":19884,"y":2.5},{"x":19887,"y":1.5},{"x":19890,"y":0},{"x":19893,"y":2},{"x":19896,"y":3},{"x":19899,"y":1},{"x":19902,"y":0.5},{"x":19905,"y":2.5},{"x":19908,"y":1.5},
{"x":19911,"y":2},{"x":19914,"y":0.5},{"x":19917,"y":3},{"x":19920,"y":1.5},{"x":19923,"y":1},{"x":19926,"y":0},{"x":19929,"y":2.5},{"x":19932,"y":1},{"x":19935,"y":3.5},{"x":19938,"y":2},{"x":19941,"y":1},{"x":19944,"y":0.5},{"x":19947,"y":3},{"x":19950,"y":1.5},{"x":19953,"y":0},{"x":19956,"y":2.5},{"x":19959,"y":1},{"x":19962,"y":2},{"x":19965,"y":0},{"x":19968,"y":3},{"x":19971,"y":1.5},{"x":19974,"y":0.5},{"x":19977,"y":2.5},{"x":19980,"y":1},{"x":19983,"y":2},{"x":19986,"y":0},{"x":19989,"y":4},{"x":19992,"y":0.5},{"x":19995,"y":1.5},{"x":19998,"y":3},{"x":20001,"y":2},{"x":20004,"y":0},{"x":20007,"y":2.5},{"x":20010,"y":1},{"x":20013,"y":1.5},{"x":20016,"y":0.5},{"x":20019,"y":3.5},{"x":20022,"y":2},{"x":20025,"y":1},{"x":20028,"y":0},
{"x":20031,"y":1.5},{"x":20034,"y":3},{"x":20037,"y":0.5},{"x":20040,"y":2},{"x":20043,"y":1},{"x":20046,"y":0},{"x":20049,"y":2.5},{"x":20052,"y":1.5},{"x":20055,"y":0},{"x":20058,"y":3.5},{"x":20061,"y":2},{"x":20064,"y":1},{"x":20067,"y":0.5},{"x":20070,"y":3},{"x":20073,"y":2.5},{"x":20076,"y":1.5},{"x":20079,"y":0},{"x":20082,"y":2},{"x":20085,"y":1},{"x":20088,"y":0.5},{"x":20091,"y":3},{"x":20094,"y":2.5},{"x":20097,"y":0},{"x":20100,"y":1.5},
{"x":20103,"y":1.5},{"x":20106,"y":0.5},{"x":20109,"y":0},{"x":20112,"y":2},{"x":20115,"y":1},{"x":20118,"y":0.5},{"x":20121,"y":3},{"x":20124,"y":0},{"x":20127,"y":1.5},{"x":20130,"y":1},{"x":20133,"y":2},{"x":20136,"y":0.5},{"x":20139,"y":0},{"x":20142,"y":1},{"x":20145,"y":2.5},{"x":20148,"y":1.5},{"x":20151,"y":0},{"x":20154,"y":0.5},{"x":20157,"y":1},{"x":20160,"y":3},{"x":20163,"y":0},{"x":20166,"y":2},{"x":20169,"y":0.5},{"x":20172,"y":1.5},{"x":20175,"y":0},{"x":20178,"y":1},{"x":20181,"y":4},{"x":20184,"y":0.5},{"x":20187,"y":0},{"x":20190,"y":2},{"x":20193,"y":1},{"x":20196,"y":1.5},{"x":20199,"y":0},{"x":20202,"y":0.5},{"x":20205,"y":2.5},{"x":20208,"y":1},{"x":20211,"y":0},{"x":20214,"y":1.5},{"x":20217,"y":0.5},{"x":20220,"y":2},
{"x":20223,"y":2},{"x":20226,"y":0.5},{"x":20229,"y":3},{"x":20232,"y":1.5},{"x":20235,"y":1},{"x":20238,"y":0},{"x":20241,"y":2.5},{"x":20244,"y":1},{"x":20247,"y":3.5},{"x":20250,"y":2},{"x":20253,"y":1},{"x":20256,"y":0.5},{"x":20259,"y":3},{"x":20262,"y":1.5},{"x":20265,"y":0},{"x":20268,"y":2.5},{"x":20271,"y":1},{"x":20274,"y":2},{"x":20277,"y":0},{"x":20280,"y":3},{"x":20283,"y":1.5},{"x":20286,"y":0.5},{"x":20289,"y":2.5},{"x":20292,"y":1},{"x":20295,"y":2},{"x":20298,"y":0},{"x":20301,"y":4},{"x":20304,"y":0.5},{"x":20307,"y":1.5},{"x":20310,"y":3},{"x":20313,"y":2},{"x":20316,"y":0},{"x":20319,"y":2.5},{"x":20322,"y":1},{"x":20325,"y":1.5},{"x":20328,"y":0.5},{"x":20331,"y":3.5},{"x":20334,"y":2},{"x":20337,"y":1},{"x":20340,"y":0},
{"x":20343,"y":1},{"x":20346,"y":0},{"x":20349,"y":2},{"x":20352,"y":0.5},{"x":20355,"y":1.5},{"x":20358,"y":0},{"x":20361,"y":3},{"x":20364,"y":1},{"x":20367,"y":0.5},{"x":20370,"y":2.5},{"x":20373,"y":1},{"x":20376,"y":0},{"x":20379,"y":1.5},{"x":20382,"y":2},{"x":20385,"y":0.5},{"x":20388,"y":0},{"x":20391,"y":1},{"x":20394,"y":3.5},{"x":20397,"y":0.5},{"x":20400,"y":1.5},{"x":20403,"y":0},{"x":20406,"y":2},{"x":20409,"y":1},{"x":20412,"y":0.5},{"x":20415,"y":2.5},{"x":20418,"y":0},{"x":20421,"y":1.5},{"x":20424,"y":1},{"x":20427,"y":0},{"x":20430,"y":2},{"x":20433,"y":0.5},{"x":20436,"y":3},{"x":20439,"y":1},{"x":20442,"y":0},{"x":20445,"y":1.5},{"x":20448,"y":0.5},{"x":20451,"y":2},{"x":20454,"y":1},{"x":20457,"y":0},{"x":20460,"y":2.5},
{"x":20463,"y":0},{"x":20466,"y":1},{"x":20469,"y":0.5},{"x":20472,"y":2},{"x":20475,"y":1.5},{"x":20478,"y":0},{"x":20481,"y":1},{"x":20484,"y":3},{"x":20487,"y":0.5},{"x":20490,"y":0},{"x":20493,"y":2},{"x":20496,"y":1},{"x":20499,"y":1.5},{"x":20500,"y":1},
{"x":16702,"y":2},{"x":16705,"y":3.5},{"x":16708,"y":1},{"x":16711,"y":0.5},{"x":16714,"y":2.5},{"x":16717,"y":4},{"x":16720,"y":1.5},{"x":16723,"y":0},{"x":16726,"y":3},{"x":16729,"y":2},{"x":16732,"y":1},{"x":16735,"y":3.5},{"x":16738,"y":0.5},{"x":16741,"y":2},{"x":16744,"y":1.5},{"x":16747,"y":3},{"x":16750,"y":0},{"x":16753,"y":2.5},{"x":16756,"y":1},{"x":16759,"y":4},{"x":16762,"y":1.5},{"x":16765,"y":0.5},{"x":16768,"y":2},{"x":16771,"y":3},{"x":16774,"y":1},{"x":16777,"y":0},{"x":16780,"y":2.5},{"x":16783,"y":1.5},{"x":16786,"y":3.5},{"x":16789,"y":0.5},{"x":16792,"y":1},{"x":16795,"y":2},{"x":16798,"y":0},{"x":16801,"y":3},{"x":16804,"y":1.5},{"x":16807,"y":0.5},{"x":16810,"y":2.5},{"x":16813,"y":1},{"x":16816,"y":0},{"x":16819,"y":2},
{"x":16822,"y":0.5},{"x":16825,"y":2},{"x":16828,"y":1},{"x":16831,"y":0},{"x":16834,"y":1.5},{"x":16837,"y":3},{"x":16840,"y":0.5},{"x":16843,"y":1},{"x":16846,"y":0},{"x":16849,"y":2},{"x":16852,"y":2.5},{"x":16855,"y":0.5},{"x":16858,"y":1},{"x":16861,"y":0},{"x":16864,"y":1.5},{"x":16867,"y":0.5},{"x":16870,"y":2},{"x":16873,"y":1},{"x":16876,"y":0},{"x":16879,"y":3},{"x":16882,"y":1},{"x":16885,"y":0.5},{"x":16888,"y":1.5},{"x":16891,"y":0},{"x":16894,"y":2},{"x":16897,"y":0.5},{"x":16900,"y":1},{"x":16903,"y":2.5},{"x":16906,"y":0},{"x":16909,"y":1.5},{"x":16912,"y":1},{"x":16915,"y":0},{"x":16918,"y":2},{"x":16921,"y":0.5},{"x":16924,"y":3.5},{"x":16927,"y":1},{"x":16930,"y":0},{"x":16933,"y":1.5},{"x":16936,"y":2},{"x":16939,"y":0.5},
{"x":16942,"y":1},{"x":16945,"y":0},{"x":16948,"y":1.5},{"x":16951,"y":2.5},{"x":16954,"y":0.5},{"x":16957,"y":0},{"x":16960,"y":2},{"x":16963,"y":1},{"x":16966,"y":3},{"x":16969,"y":0},{"x":16972,"y":0.5},{"x":16975,"y":1.5},{"x":16978,"y":1},{"x":16981,"y":2},{"x":16984,"y":0},{"x":16987,"y":0.5},{"x":16990,"y":2.5},{"x":16993,"y":1},{"x":16996,"y":0},{"x":16999,"y":1.5},{"x":17002,"y":0.5},{"x":17005,"y":3},{"x":17008,"y":1},{"x":17011,"y":0},{"x":17014,"y":2},{"x":17017,"y":1.5},{"x":17020,"y":0.5},{"x":17023,"y":0},{"x":17026,"y":1},{"x":17029,"y":2},{"x":17032,"y":0},{"x":17035,"y":3},{"x":17038,"y":0.5},{"x":17041,"y":1},{"x":17044,"y":1.5},{"x":17047,"y":0},{"x":17050,"y":2.5},{"x":17053,"y":1},{"x":17056,"y":0.5},{"x":17059,"y":0},
{"x":17062,"y":0.5},{"x":17065,"y":2},{"x":17068,"y":1},{"x":17071,"y":0},{"x":17074,"y":1.5},{"x":17077,"y":3},{"x":17080,"y":0.5},{"x":17083,"y":1},{"x":17086,"y":0},{"x":17089,"y":2},{"x":17092,"y":2.5},{"x":17095,"y":0.5},{"x":17098,"y":1},{"x":17101,"y":0},{"x":17104,"y":1.5},{"x":17107,"y":0.5},{"x":17110,"y":2},{"x":17113,"y":1},{"x":17116,"y":0},{"x":17119,"y":3},{"x":17122,"y":1},{"x":17125,"y":0.5},{"x":17128,"y":1.5},{"x":17131,"y":0},{"x":17134,"y":2},{"x":17137,"y":0.5},{"x":17140,"y":1},{"x":17143,"y":2.5},{"x":17146,"y":0},{"x":17149,"y":1.5},{"x":17152,"y":1},{"x":17155,"y":0},{"x":17158,"y":2},{"x":17161,"y":0.5},{"x":17164,"y":3.5},{"x":17167,"y":1},{"x":17170,"y":0},{"x":17173,"y":1.5},{"x":17176,"y":2},{"x":17179,"y":0.5},
{"x":17182,"y":1},{"x":17185,"y":0},{"x":17188,"y":1.5},{"x":17191,"y":2.5},{"x":17194,"y":0.5},{"x":17197,"y":0},{"x":17200,"y":2},{"x":17203,"y":1},{"x":17206,"y":3},{"x":17209,"y":0},{"x":17212,"y":0.5},{"x":17215,"y":1.5},{"x":17218,"y":1},{"x":17221,"y":2},{"x":17224,"y":0},{"x":17227,"y":0.5},{"x":17230,"y":2.5},{"x":17233,"y":1},{"x":17236,"y":0},{"x":17239,"y":1.5},{"x":17242,"y":0.5},{"x":17245,"y":3},{"x":17248,"y":1},{"x":17251,"y":0},{"x":17254,"y":2},{"x":17257,"y":1.5},{"x":17260,"y":0.5},{"x":17263,"y":0},{"x":17266,"y":1},{"x":17269,"y":2},{"x":17272,"y":0},{"x":17275,"y":3},{"x":17278,"y":0.5},{"x":17281,"y":1},{"x":17284,"y":1.5},{"x":17287,"y":0},{"x":17290,"y":2.5},{"x":17293,"y":1},{"x":17296,"y":0.5},{"x":17299,"y":0},
{"x":17302,"y":0.5},{"x":17305,"y":2},{"x":17308,"y":1},{"x":17311,"y":0},{"x":17314,"y":1.5},{"x":17317,"y":3},{"x":17320,"y":0.5},{"x":17323,"y":1},{"x":17326,"y":0},{"x":17329,"y":2},{"x":17332,"y":2.5},{"x":17335,"y":0.5},{"x":17338,"y":1},{"x":17341,"y":0},{"x":17344,"y":1.5},{"x":17347,"y":0.5},{"x":17350,"y":2},{"x":17353,"y":1},{"x":17356,"y":0},{"x":17359,"y":3},{"x":17362,"y":1},{"x":17365,"y":0.5},{"x":17368,"y":1.5},{"x":17371,"y":0},{"x":17374,"y":2},{"x":17377,"y":0.5},{"x":17380,"y":1},{"x":17383,"y":2.5},{"x":17386,"y":0},{"x":17389,"y":1.5},{"x":17392,"y":1},{"x":17395,"y":0},{"x":17398,"y":2},{"x":17401,"y":0.5},{"x":17404,"y":3.5},{"x":17407,"y":1},{"x":17410,"y":0},{"x":17413,"y":1.5},{"x":17416,"y":2},{"x":17419,"y":0.5},
{"x":17422,"y":1},{"x":17425,"y":0},{"x":17428,"y":1.5},{"x":17431,"y":2.5},{"x":17434,"y":0.5},{"x":17437,"y":0},{"x":17440,"y":2},{"x":17443,"y":1},{"x":17446,"y":3},{"x":17449,"y":0},
{"x":17453,"y":3},{"x":17456,"y":1.5},{"x":17459,"y":4},{"x":17462,"y":2},{"x":17465,"y":3.5},{"x":17468,"y":2.5},{"x":17471,"y":1},{"x":17474,"y":4},{"x":17477,"y":3},{"x":17480,"y":2},{"x":17483,"y":4.5},{"x":17486,"y":1.5},{"x":17489,"y":3},{"x":17492,"y":3.5},{"x":17495,"y":2},{"x":17498,"y":4},{"x":17501,"y":2.5},{"x":17504,"y":1},{"x":17507,"y":3},{"x":17510,"y":4.5},{"x":17513,"y":2},{"x":17516,"y":3.5},{"x":17519,"y":1.5},{"x":17522,"y":3},{"x":17525,"y":2.5},{"x":17528,"y":4},{"x":17531,"y":1},{"x":17534,"y":2},{"x":17537,"y":3},{"x":17540,"y":1.5},{"x":17543,"y":2.5},{"x":17546,"y":0.5},{"x":17549,"y":2},{"x":17552,"y":1},{"x":17555,"y":1.5},{"x":17558,"y":0},
{"x":17563,"y":0.5},{"x":17566,"y":2},{"x":17569,"y":1},{"x":17572,"y":0},{"x":17575,"y":1.5},{"x":17578,"y":3},{"x":17581,"y":0.5},{"x":17584,"y":1},{"x":17587,"y":0},{"x":17590,"y":2},{"x":17593,"y":2.5},{"x":17596,"y":0.5},{"x":17599,"y":1},{"x":17602,"y":0},{"x":17605,"y":1.5},{"x":17608,"y":0.5},{"x":17611,"y":2},{"x":17614,"y":1},{"x":17617,"y":0},{"x":17620,"y":3},{"x":17623,"y":1},{"x":17626,"y":0.5},{"x":17629,"y":1.5},{"x":17632,"y":0},{"x":17635,"y":2},{"x":17638,"y":0.5},{"x":17641,"y":1},{"x":17644,"y":2.5},{"x":17647,"y":0},{"x":17650,"y":1.5},{"x":17653,"y":1},{"x":17656,"y":0},{"x":17659,"y":2},{"x":17662,"y":0.5},{"x":17665,"y":3.5},{"x":17668,"y":1},{"x":17671,"y":0},{"x":17674,"y":1.5},{"x":17677,"y":2},{"x":17680,"y":0.5},
{"x":17683,"y":1},{"x":17686,"y":0},{"x":17689,"y":1.5},{"x":17692,"y":2.5},{"x":17695,"y":0.5},{"x":17698,"y":0},{"x":17701,"y":2},{"x":17704,"y":1},{"x":17707,"y":3},{"x":17710,"y":0},{"x":17713,"y":0.5},{"x":17716,"y":1.5},{"x":17719,"y":1},{"x":17722,"y":2},{"x":17725,"y":0},{"x":17728,"y":0.5},{"x":17731,"y":2.5},{"x":17734,"y":1},{"x":17737,"y":0},{"x":17740,"y":1.5},{"x":17743,"y":0.5},{"x":17746,"y":3},{"x":17749,"y":1},{"x":17752,"y":0},{"x":17755,"y":2},{"x":17758,"y":1.5},{"x":17761,"y":0.5},{"x":17764,"y":0},{"x":17767,"y":1},{"x":17770,"y":2},{"x":17773,"y":0},{"x":17776,"y":3},{"x":17779,"y":0.5},{"x":17782,"y":1},{"x":17785,"y":1.5},{"x":17788,"y":0},{"x":17791,"y":2.5},{"x":17794,"y":1},{"x":17797,"y":0.5},{"x":17800,"y":0},
{"x":17803,"y":0.5},{"x":17806,"y":2},{"x":17809,"y":1},{"x":17812,"y":0},{"x":17815,"y":1.5},{"x":17818,"y":3},{"x":17821,"y":0.5},{"x":17824,"y":1},{"x":17827,"y":0},{"x":17830,"y":2},{"x":17833,"y":2.5},{"x":17836,"y":0.5},{"x":17839,"y":1},{"x":17842,"y":0},{"x":17845,"y":1.5},{"x":17848,"y":0.5},{"x":17851,"y":2},{"x":17854,"y":1},{"x":17857,"y":0},{"x":17860,"y":3},{"x":17863,"y":1},{"x":17866,"y":0.5},{"x":17869,"y":1.5},{"x":17872,"y":0},{"x":17875,"y":2},{"x":17878,"y":0.5},{"x":17881,"y":1},{"x":17884,"y":2.5},{"x":17887,"y":0},{"x":17890,"y":1.5},{"x":17893,"y":1},{"x":17896,"y":0},{"x":17899,"y":2},{"x":17902,"y":0.5},{"x":17905,"y":3.5},{"x":17908,"y":1},{"x":17911,"y":0},{"x":17914,"y":1.5},{"x":17917,"y":2},{"x":17920,"y":0.5},
{"x":17923,"y":1},{"x":17926,"y":0},{"x":17929,"y":1.5},{"x":17932,"y":2.5},{"x":17935,"y":0.5},{"x":17938,"y":0},{"x":17941,"y":2},{"x":17944,"y":1},{"x":17947,"y":3},{"x":17950,"y":0},{"x":17953,"y":0.5},{"x":17956,"y":1.5},{"x":17959,"y":1},{"x":17962,"y":2},{"x":17965,"y":0},{"x":17968,"y":0.5},{"x":17971,"y":2.5},{"x":17974,"y":1},{"x":17977,"y":0},{"x":17980,"y":1.5},{"x":17983,"y":0.5},{"x":17986,"y":3},{"x":17989,"y":1},{"x":17992,"y":0},{"x":17995,"y":2},{"x":17998,"y":1.5},{"x":18001,"y":0.5},{"x":18004,"y":0},{"x":18007,"y":1},{"x":18010,"y":2},{"x":18013,"y":0},{"x":18016,"y":3},{"x":18019,"y":0.5},{"x":18022,"y":1},{"x":18025,"y":1.5},{"x":18028,"y":0},{"x":18031,"y":2.5},{"x":18034,"y":1},{"x":18037,"y":0.5},{"x":18040,"y":0},
{"x":18043,"y":0.5},{"x":18046,"y":2},{"x":18049,"y":1},{"x":18052,"y":0},{"x":18055,"y":1.5},{"x":18058,"y":3},{"x":18061,"y":0.5},{"x":18064,"y":1},{"x":18067,"y":0},{"x":18070,"y":2},{"x":18073,"y":2.5},{"x":18076,"y":0.5},{"x":18079,"y":1},{"x":18082,"y":0},{"x":18085,"y":1.5},{"x":18088,"y":0.5},{"x":18091,"y":2},{"x":18094,"y":1},{"x":18097,"y":0},{"x":18100,"y":3},{"x":18103,"y":1},{"x":18106,"y":0.5},{"x":18109,"y":1.5},{"x":18112,"y":0},{"x":18115,"y":2},{"x":18118,"y":0.5},{"x":18121,"y":1},{"x":18124,"y":2.5},{"x":18127,"y":0},{"x":18130,"y":1.5},{"x":18133,"y":1},{"x":18136,"y":0},{"x":18139,"y":2},{"x":18142,"y":0.5},{"x":18145,"y":3.5},{"x":18148,"y":1},{"x":18151,"y":0},{"x":18154,"y":1.5},{"x":18157,"y":2},{"x":18160,"y":0.5},
{"x":18163,"y":1},{"x":18166,"y":0},{"x":18169,"y":1.5},{"x":18172,"y":2.5},{"x":18175,"y":0.5},{"x":18178,"y":0},{"x":18181,"y":2},{"x":18184,"y":1},{"x":18187,"y":3},{"x":18190,"y":0},{"x":18193,"y":0.5},{"x":18196,"y":1.5},{"x":18199,"y":1},{"x":18202,"y":2},{"x":18205,"y":0},{"x":18208,"y":0.5},{"x":18211,"y":2.5},{"x":18214,"y":1},{"x":18217,"y":0},{"x":18220,"y":1.5},{"x":18223,"y":0.5},{"x":18226,"y":3},{"x":18229,"y":1},{"x":18232,"y":0},{"x":18235,"y":2},{"x":18238,"y":1.5},{"x":18241,"y":0.5},{"x":18244,"y":0},{"x":18247,"y":1},{"x":18250,"y":2},{"x":18253,"y":0},{"x":18256,"y":3},{"x":18259,"y":0.5},{"x":18262,"y":1},{"x":18265,"y":1.5},{"x":18268,"y":0},{"x":18271,"y":2.5},{"x":18274,"y":1},{"x":18277,"y":0.5},{"x":18280,"y":0},
{"x":18283,"y":0.5},{"x":18286,"y":2},{"x":18289,"y":1},{"x":18292,"y":0},{"x":18295,"y":1.5},{"x":18298,"y":3},{"x":18301,"y":0.5},{"x":18304,"y":1},{"x":18307,"y":0},{"x":18310,"y":2},{"x":18313,"y":2.5},{"x":18316,"y":0.5},{"x":18319,"y":1},{"x":18322,"y":0},{"x":18325,"y":1.5},{"x":18328,"y":0.5},{"x":18331,"y":2},{"x":18334,"y":1},{"x":18337,"y":0},{"x":18340,"y":3},{"x":18343,"y":1},{"x":18346,"y":0.5},{"x":18349,"y":1.5},{"x":18352,"y":0},{"x":18355,"y":2},{"x":18358,"y":0.5},{"x":18361,"y":1},{"x":18364,"y":2.5},{"x":18367,"y":0},{"x":18370,"y":1.5},{"x":18373,"y":1},{"x":18376,"y":0},{"x":18379,"y":2},{"x":18382,"y":0.5},{"x":18385,"y":3.5},{"x":18388,"y":1},{"x":18391,"y":0},{"x":18394,"y":1.5},{"x":18397,"y":2},{"x":18400,"y":0.5},
{"x":18403,"y":2.5},{"x":18406,"y":1},{"x":18409,"y":0},{"x":18412,"y":3},{"x":18415,"y":1.5},{"x":18418,"y":2},{"x":18421,"y":0.5},{"x":18424,"y":3.5},{"x":18427,"y":1},{"x":18430,"y":2},{"x":18433,"y":0},{"x":18436,"y":2.5},{"x":18439,"y":1.5},{"x":18442,"y":3},{"x":18445,"y":1},{"x":18448,"y":0.5},{"x":18451,"y":2},{"x":18454,"y":4},{"x":18457,"y":1.5},{"x":18460,"y":0},{"x":18463,"y":2.5},{"x":18466,"y":1},{"x":18469,"y":3},{"x":18472,"y":2},{"x":18475,"y":0.5},{"x":18478,"y":1.5},{"x":18481,"y":3.5},{"x":18484,"y":1},{"x":18487,"y":0},{"x":18490,"y":2},{"x":18493,"y":2.5},{"x":18496,"y":1},{"x":18499,"y":3},{"x":18502,"y":0.5},{"x":18505,"y":1.5},{"x":18508,"y":2},{"x":18511,"y":0},{"x":18514,"y":3},{"x":18517,"y":1},{"x":18520,"y":2.5},
{"x":18523,"y":1},{"x":18526,"y":2.5},{"x":18529,"y":3},{"x":18532,"y":0.5},{"x":18535,"y":2},{"x":18538,"y":1.5},{"x":18541,"y":0},{"x":18544,"y":3},{"x":18547,"y":2},{"x":18550,"y":1},{"x":18553,"y":2.5},{"x":18556,"y":0.5},{"x":18559,"y":4},{"x":18562,"y":1.5},{"x":18565,"y":1},{"x":18568,"y":2},{"x":18571,"y":0},{"x":18574,"y":3},{"x":18577,"y":1.5},{"x":18580,"y":2.5},{"x":18583,"y":1},{"x":18586,"y":0.5},{"x":18589,"y":2},{"x":18592,"y":3.5},{"x":18595,"y":1},{"x":18598,"y":0},{"x":18601,"y":2.5},{"x":18604,"y":1.5},{"x":18607,"y":3},{"x":18610,"y":2},{"x":18613,"y":0.5},{"x":18616,"y":1},{"x":18619,"y":2},{"x":18622,"y":0},{"x":18625,"y":3},{"x":18628,"y":1.5},{"x":18631,"y":2.5},{"x":18634,"y":1},{"x":18637,"y":0.5},{"x":18640,"y":2},
{"x":18643,"y":2.5},{"x":18646,"y":1},{"x":18649,"y":0},{"x":18652,"y":3},{"x":18655,"y":1.5},{"x":18658,"y":2},{"x":18661,"y":0.5},{"x":18664,"y":3.5},{"x":18667,"y":1},{"x":18670,"y":2},{"x":18673,"y":0},{"x":18676,"y":2.5},{"x":18679,"y":1.5},{"x":18682,"y":3},{"x":18685,"y":1},{"x":18688,"y":0.5},{"x":18691,"y":2},{"x":18694,"y":4},{"x":18697,"y":1.5},{"x":18700,"y":0},{"x":18703,"y":2.5},{"x":18706,"y":1},{"x":18709,"y":3},{"x":18712,"y":2},{"x":18715,"y":0.5},{"x":18718,"y":1.5},{"x":18721,"y":3.5},{"x":18724,"y":1},{"x":18727,"y":0},{"x":18730,"y":2},{"x":18733,"y":2.5},{"x":18736,"y":1},{"x":18739,"y":3},{"x":18742,"y":0.5},{"x":18745,"y":1.5},{"x":18748,"y":2},{"x":18751,"y":0},{"x":18754,"y":3},{"x":18757,"y":1},{"x":18760,"y":2.5},
{"x":18763,"y":1},{"x":18766,"y":2.5},{"x":18769,"y":3},{"x":18772,"y":0.5},{"x":18775,"y":2},{"x":18778,"y":1.5},{"x":18781,"y":0},{"x":18784,"y":3},{"x":18787,"y":2},{"x":18790,"y":1},{"x":18793,"y":2.5},{"x":18796,"y":0.5},{"x":18799,"y":4},{"x":18802,"y":1.5},{"x":18805,"y":1},{"x":18808,"y":2},{"x":18811,"y":0},{"x":18814,"y":3},{"x":18817,"y":1.5},{"x":18820,"y":2.5},{"x":18823,"y":1},{"x":18826,"y":0.5},{"x":18829,"y":2},{"x":18832,"y":3.5},{"x":18835,"y":1},{"x":18838,"y":0},{"x":18841,"y":2.5},{"x":18844,"y":1.5},{"x":18847,"y":3},{"x":18850,"y":2},{"x":18853,"y":0.5},{"x":18856,"y":1},{"x":18859,"y":2},{"x":18862,"y":0},{"x":18865,"y":3},{"x":18868,"y":1.5},{"x":18871,"y":2.5},{"x":18874,"y":1},{"x":18877,"y":0.5},{"x":18880,"y":2},
{"x":18883,"y":2.5},{"x":18886,"y":1},{"x":18889,"y":0},{"x":18892,"y":3},{"x":18895,"y":1.5},{"x":18898,"y":2},{"x":18901,"y":0.5},{"x":18904,"y":3.5},{"x":18907,"y":1},{"x":18910,"y":2},{"x":18913,"y":0},{"x":18916,"y":2.5},{"x":18919,"y":1.5},{"x":18922,"y":3},{"x":18925,"y":1},{"x":18928,"y":0.5},{"x":18931,"y":2},{"x":18934,"y":4},{"x":18937,"y":1.5},{"x":18940,"y":0},{"x":18943,"y":2.5},{"x":18946,"y":1},{"x":18949,"y":3},{"x":18952,"y":2},{"x":18955,"y":0.5},{"x":18958,"y":1.5},{"x":18961,"y":3.5},{"x":18964,"y":1},{"x":18967,"y":0},{"x":18970,"y":2},{"x":18973,"y":2.5},{"x":18976,"y":1},{"x":18979,"y":3},{"x":18982,"y":0.5},{"x":18985,"y":1.5},{"x":18988,"y":2},{"x":18991,"y":0},{"x":18994,"y":3},{"x":18997,"y":1},{"x":19000,"y":2.5},
{"x":19003,"y":2.5},{"x":19006,"y":1},{"x":19009,"y":0},{"x":19012,"y":3},{"x":19015,"y":1.5},{"x":19018,"y":2},{"x":19021,"y":0.5},{"x":19024,"y":3.5},{"x":19027,"y":1},{"x":19030,"y":2},{"x":19033,"y":0},{"x":19036,"y":2.5},{"x":19039,"y":1.5},{"x":19042,"y":3},{"x":19045,"y":1},{"x":19048,"y":0.5},{"x":19051,"y":2},{"x":19054,"y":4},{"x":19057,"y":1.5},{"x":19060,"y":0},{"x":19063,"y":2.5},{"x":19066,"y":1},{"x":19069,"y":3},{"x":19072,"y":2},{"x":19075,"y":0.5},{"x":19078,"y":1.5},{"x":19081,"y":3.5},{"x":19084,"y":1},{"x":19087,"y":0},{"x":19090,"y":2},{"x":19093,"y":2.5},{"x":19096,"y":1},{"x":19099,"y":3},{"x":19102,"y":0.5},{"x":19105,"y":1.5},{"x":19108,"y":2},{"x":19111,"y":0},{"x":19114,"y":3},{"x":19117,"y":1},{"x":19120,"y":2.5},
{"x":19123,"y":1},{"x":19126,"y":2.5},{"x":19129,"y":3},{"x":19132,"y":0.5},{"x":19135,"y":2},{"x":19138,"y":1.5},{"x":19141,"y":0},{"x":19144,"y":3},{"x":19147,"y":2},{"x":19150,"y":1},{"x":19153,"y":2.5},{"x":19156,"y":0.5},{"x":19159,"y":4},{"x":19162,"y":1.5},{"x":19165,"y":1},{"x":19168,"y":2},{"x":19171,"y":0},{"x":19174,"y":3},{"x":19177,"y":1.5},{"x":19180,"y":2.5},{"x":19183,"y":1},{"x":19186,"y":0.5},{"x":19189,"y":2},{"x":19192,"y":3.5},{"x":19195,"y":1},{"x":19198,"y":0},{"x":19201,"y":2.5},{"x":19204,"y":1.5},{"x":19207,"y":3},{"x":19210,"y":2},{"x":19213,"y":0.5},{"x":19216,"y":1},{"x":19219,"y":2},{"x":19222,"y":0},{"x":19225,"y":3},{"x":19228,"y":1.5},{"x":19231,"y":2.5},{"x":19234,"y":1},{"x":19237,"y":0.5},{"x":19240,"y":2},
{"x":19243,"y":2.5},{"x":19246,"y":1},{"x":19249,"y":0},{"x":19252,"y":3},{"x":19255,"y":1.5},{"x":19258,"y":2},{"x":19261,"y":0.5},{"x":19264,"y":3.5},{"x":19267,"y":1},{"x":19270,"y":2},{"x":19273,"y":0},{"x":19276,"y":2.5},{"x":19279,"y":1.5},{"x":19282,"y":3},{"x":19285,"y":1},{"x":19288,"y":0.5},{"x":19291,"y":2},{"x":19294,"y":4},{"x":19297,"y":1.5},{"x":19300,"y":0},
{"x":19303,"y":1},{"x":19306,"y":0},{"x":19309,"y":1.5},{"x":19312,"y":2.5},{"x":19315,"y":0.5},{"x":19318,"y":0},{"x":19321,"y":2},{"x":19324,"y":1},{"x":19327,"y":3},{"x":19330,"y":0},{"x":19333,"y":0.5},{"x":19336,"y":1.5},{"x":19339,"y":1},{"x":19342,"y":2},{"x":19345,"y":0},{"x":19348,"y":0.5},{"x":19351,"y":2.5},{"x":19354,"y":1},{"x":19357,"y":0},{"x":19360,"y":1.5},{"x":19363,"y":0.5},{"x":19366,"y":3},{"x":19369,"y":1},{"x":19372,"y":0},{"x":19375,"y":2},{"x":19378,"y":1.5},{"x":19381,"y":0.5},{"x":19384,"y":0},{"x":19387,"y":1},{"x":19390,"y":2},{"x":19393,"y":0},{"x":19396,"y":3},{"x":19399,"y":0.5},{"x":19402,"y":1},{"x":19405,"y":1.5},{"x":19408,"y":0},{"x":19411,"y":2.5},{"x":19414,"y":1},{"x":19417,"y":0.5},{"x":19420,"y":0},
{"x":19423,"y":0.5},{"x":19426,"y":2},{"x":19429,"y":1},{"x":19432,"y":0},{"x":19435,"y":1.5},{"x":19438,"y":3},{"x":19441,"y":0.5},{"x":19444,"y":1},{"x":19447,"y":0},{"x":19450,"y":2},{"x":19453,"y":2.5},{"x":19456,"y":0.5},{"x":19459,"y":1},{"x":19462,"y":0},{"x":19465,"y":1.5},{"x":19468,"y":0.5},{"x":19471,"y":2},{"x":19474,"y":1},{"x":19477,"y":0},{"x":19480,"y":3},{"x":19483,"y":1},{"x":19486,"y":0.5},{"x":19489,"y":1.5},{"x":19492,"y":0},{"x":19495,"y":2},{"x":19498,"y":0.5},{"x":19501,"y":1},{"x":19504,"y":2.5},{"x":19507,"y":0},{"x":19510,"y":1.5},{"x":19513,"y":1},{"x":19516,"y":0},{"x":19519,"y":2},{"x":19522,"y":0.5},{"x":19525,"y":3.5},{"x":19528,"y":1},{"x":19531,"y":0},{"x":19534,"y":1.5},{"x":19537,"y":2},{"x":19540,"y":0.5},{"x":19543,"y":1},{"x":19546,"y":0},{"x":19549,"y":2},
{"x":19552,"y":1},{"x":19555,"y":2.5},{"x":19558,"y":3},{"x":19561,"y":0.5},{"x":19564,"y":2},{"x":19567,"y":1.5},{"x":19570,"y":0},{"x":19573,"y":3},{"x":19576,"y":2},{"x":19579,"y":1},{"x":19582,"y":2.5},{"x":19585,"y":0.5},{"x":19588,"y":4},{"x":19591,"y":1.5},{"x":19594,"y":1},{"x":19597,"y":2},{"x":19600,"y":0},{"x":19603,"y":3},{"x":19606,"y":1.5},{"x":19609,"y":2.5},{"x":19612,"y":1},{"x":19615,"y":0.5},{"x":19618,"y":2},{"x":19621,"y":3.5},{"x":19624,"y":1},{"x":19627,"y":0},{"x":19630,"y":2.5},{"x":19633,"y":1.5},{"x":19636,"y":3},{"x":19639,"y":2},{"x":19642,"y":0.5},{"x":19645,"y":1},{"x":19648,"y":2},{"x":19651,"y":0},{"x":19654,"y":3},{"x":19657,"y":1.5},{"x":19660,"y":2.5},{"x":19663,"y":1},{"x":19666,"y":0.5},{"x":19669,"y":2},
{"x":19672,"y":2.5},{"x":19675,"y":1},{"x":19678,"y":0},{"x":19681,"y":3},{"x":19684,"y":1.5},{"x":19687,"y":2},{"x":19690,"y":0.5},{"x":19693,"y":3.5},{"x":19696,"y":1},{"x":19699,"y":2},{"x":19702,"y":0},{"x":19705,"y":2.5},{"x":19708,"y":1.5},{"x":19711,"y":3},{"x":19714,"y":1},{"x":19717,"y":0.5},{"x":19720,"y":2},{"x":19723,"y":4},{"x":19726,"y":1.5},{"x":19729,"y":0},{"x":19732,"y":2.5},{"x":19735,"y":1},{"x":19738,"y":3},{"x":19741,"y":2},{"x":19744,"y":0.5},{"x":19747,"y":1.5},{"x":19750,"y":3.5},{"x":19753,"y":1},{"x":19756,"y":0},{"x":19759,"y":2},{"x":19762,"y":2.5},{"x":19765,"y":1},{"x":19768,"y":3},{"x":19771,"y":0.5},{"x":19774,"y":1.5},{"x":19777,"y":2},{"x":19780,"y":0},{"x":19783,"y":3},{"x":19786,"y":1},{"x":19789,"y":2.5},
{"x":19792,"y":1},{"x":19795,"y":2.5},{"x":19798,"y":3},{"x":19801,"y":0.5},{"x":19804,"y":2},{"x":19807,"y":1.5},{"x":19810,"y":0},{"x":19813,"y":3},{"x":19816,"y":2},{"x":19819,"y":1},{"x":19822,"y":2.5},{"x":19825,"y":0.5},{"x":19828,"y":4},{"x":19831,"y":1.5},{"x":19834,"y":1},{"x":19837,"y":2},{"x":19840,"y":0},{"x":19843,"y":3},{"x":19846,"y":1.5},{"x":19849,"y":2.5},{"x":19852,"y":1},{"x":19855,"y":0.5},{"x":19858,"y":2},{"x":19861,"y":3.5},{"x":19864,"y":1},{"x":19867,"y":0},{"x":19870,"y":2.5},{"x":19873,"y":1.5},{"x":19876,"y":3},{"x":19879,"y":2},{"x":19882,"y":0.5},{"x":19885,"y":1},{"x":19888,"y":2},{"x":19891,"y":0},{"x":19894,"y":3},{"x":19897,"y":1.5},{"x":19900,"y":2.5},{"x":19903,"y":1},{"x":19906,"y":0.5},{"x":19909,"y":2},
{"x":19912,"y":2.5},{"x":19915,"y":1},{"x":19918,"y":0},{"x":19921,"y":3},{"x":19924,"y":1.5},{"x":19927,"y":2},{"x":19930,"y":0.5},{"x":19933,"y":3.5},{"x":19936,"y":1},{"x":19939,"y":2},{"x":19942,"y":0},{"x":19945,"y":2.5},{"x":19948,"y":1.5},{"x":19951,"y":3},{"x":19954,"y":1},{"x":19957,"y":0.5},{"x":19960,"y":2},{"x":19963,"y":4},{"x":19966,"y":1.5},{"x":19969,"y":0},{"x":19972,"y":2.5},{"x":19975,"y":1},{"x":19978,"y":3},{"x":19981,"y":2},{"x":19984,"y":0.5},{"x":19987,"y":1.5},{"x":19990,"y":3.5},{"x":19993,"y":1},{"x":19996,"y":0},{"x":19999,"y":2},{"x":20002,"y":2.5},{"x":20005,"y":1},{"x":20008,"y":3},{"x":20011,"y":0.5},{"x":20014,"y":1.5},{"x":20017,"y":2},{"x":20020,"y":0},{"x":20023,"y":3},{"x":20026,"y":1},{"x":20029,"y":2.5},
{"x":20032,"y":1},{"x":20035,"y":2.5},{"x":20038,"y":3},{"x":20041,"y":0.5},{"x":20044,"y":2},{"x":20047,"y":1.5},{"x":20050,"y":0},{"x":20053,"y":3},{"x":20056,"y":2},{"x":20059,"y":1},{"x":20062,"y":2.5},{"x":20065,"y":0.5},{"x":20068,"y":4},{"x":20071,"y":1.5},{"x":20074,"y":1},{"x":20077,"y":2},{"x":20080,"y":0},{"x":20083,"y":3},{"x":20086,"y":1.5},{"x":20089,"y":2.5},{"x":20092,"y":1},{"x":20095,"y":0.5},{"x":20098,"y":2},{"x":20101,"y":3.5},
{"x":20104,"y":0.5},{"x":20107,"y":2},{"x":20110,"y":1},{"x":20113,"y":0},{"x":20116,"y":1.5},{"x":20119,"y":3},{"x":20122,"y":0.5},{"x":20125,"y":1},{"x":20128,"y":0},{"x":20131,"y":2},{"x":20134,"y":2.5},{"x":20137,"y":0.5},{"x":20140,"y":1},{"x":20143,"y":0},{"x":20146,"y":1.5},{"x":20149,"y":0.5},{"x":20152,"y":2},{"x":20155,"y":1},{"x":20158,"y":0},{"x":20161,"y":3},{"x":20164,"y":1},{"x":20167,"y":0.5},{"x":20170,"y":1.5},{"x":20173,"y":0},{"x":20176,"y":2},{"x":20179,"y":0.5},{"x":20182,"y":1},{"x":20185,"y":2.5},{"x":20188,"y":0},{"x":20191,"y":1.5},{"x":20194,"y":1},{"x":20197,"y":0},{"x":20200,"y":2},{"x":20203,"y":0.5},{"x":20206,"y":3.5},{"x":20209,"y":1},{"x":20212,"y":0},{"x":20215,"y":1.5},{"x":20218,"y":2},{"x":20221,"y":0.5},
{"x":20224,"y":2.5},{"x":20227,"y":1},{"x":20230,"y":0},{"x":20233,"y":3},{"x":20236,"y":1.5},{"x":20239,"y":2},{"x":20242,"y":0.5},{"x":20245,"y":3.5},{"x":20248,"y":1},{"x":20251,"y":2},{"x":20254,"y":0},{"x":20257,"y":2.5},{"x":20260,"y":1.5},{"x":20263,"y":3},{"x":20266,"y":1},{"x":20269,"y":0.5},{"x":20272,"y":2},{"x":20275,"y":4},{"x":20278,"y":1.5},{"x":20281,"y":0},{"x":20284,"y":2.5},{"x":20287,"y":1},{"x":20290,"y":3},{"x":20293,"y":2},{"x":20296,"y":0.5},{"x":20299,"y":1.5},{"x":20302,"y":3.5},{"x":20305,"y":1},{"x":20308,"y":0},{"x":20311,"y":2},{"x":20314,"y":2.5},{"x":20317,"y":1},{"x":20320,"y":3},{"x":20323,"y":0.5},{"x":20326,"y":1.5},{"x":20329,"y":2},{"x":20332,"y":0},{"x":20335,"y":3},{"x":20338,"y":1},{"x":20341,"y":2.5},
{"x":20344,"y":1},{"x":20347,"y":0},{"x":20350,"y":1.5},{"x":20353,"y":2.5},{"x":20356,"y":0.5},{"x":20359,"y":0},{"x":20362,"y":2},{"x":20365,"y":1},{"x":20368,"y":3},{"x":20371,"y":0},{"x":20374,"y":0.5},{"x":20377,"y":1.5},{"x":20380,"y":1},{"x":20383,"y":2},{"x":20386,"y":0},{"x":20389,"y":0.5},{"x":20392,"y":2.5},{"x":20395,"y":1},{"x":20398,"y":0},{"x":20401,"y":1.5},{"x":20404,"y":0.5},{"x":20407,"y":3},{"x":20410,"y":1},{"x":20413,"y":0},{"x":20416,"y":2},{"x":20419,"y":1.5},{"x":20422,"y":0.5},{"x":20425,"y":0},{"x":20428,"y":1},{"x":20431,"y":2},{"x":20434,"y":0},{"x":20437,"y":3},{"x":20440,"y":0.5},{"x":20443,"y":1},{"x":20446,"y":1.5},{"x":20449,"y":0},{"x":20452,"y":2.5},{"x":20455,"y":1},{"x":20458,"y":0.5},{"x":20461,"y":0},
{"x":20464,"y":0.5},{"x":20467,"y":2},{"x":20470,"y":1},{"x":20473,"y":0},{"x":20476,"y":1.5},{"x":20479,"y":3},{"x":20482,"y":0.5},{"x":20485,"y":1},{"x":20488,"y":0},{"x":20491,"y":2},{"x":20494,"y":2.5},{"x":20497,"y":0.5},
{"x":16528,"y":84},{"x":16608,"y":64},{"x":16504,"y":41.5},{"x":16651,"y":42.5},{"x":16652,"y":37.5},{"x":16531,"y":34},{"x":16568,"y":33.5},{"x":16609,"y":27.5},{"x":16500,"y":22.5},{"x":16517,"y":20},{"x":16966,"y":23},{"x":16967,"y":11},{"x":16656,"y":17.5},{"x":16567,"y":15.5},{"x":16691,"y":14},{"x":16518,"y":13},{"x":16569,"y":12.5},{"x":16611,"y":13},{"x":16610,"y":12.5},{"x":16612,"y":11.5},{"x":16646,"y":11.5},{"x":16526,"y":10},{"x":16527,"y":9.5},{"x":16532,"y":8},{"x":16537,"y":8.5},{"x":16570,"y":8.5},{"x":16612,"y":8.5},{"x":16620,"y":8.5},{"x":16627,"y":8.5},{"x":16652,"y":9},{"x":16657,"y":9},{"x":16742,"y":9},{"x":16785,"y":7.5},{"x":16786,"y":6.5},{"x":16681,"y":7},{"x":16516,"y":7},{"x":16540,"y":7},{"x":16734,"y":5},{"x":16502,"y":7},{"x":16884,"y":4.5},{"x":16945,"y":3},{"x":16950,"y":4},{"x":16958,"y":3},{"x":16965,"y":4},{"x":16972,"y":3.5},{"x":16980,"y":4},{"x":16986,"y":3},
{"x":17515,"y":39},{"x":17536,"y":24},{"x":17535,"y":19},{"x":17514,"y":16.5},{"x":17508,"y":8.5},{"x":17543,"y":7.5},{"x":17506,"y":5.5},{"x":17543,"y":5},{"x":17446,"y":4.5},{"x":18137,"y":4.5},{"x":18169,"y":5},
{"x":18966,"y":43},{"x":19196,"y":41},{"x":18590,"y":34},{"x":18850,"y":31},{"x":18966,"y":30},{"x":18937,"y":26},{"x":19040,"y":25.5},{"x":18676,"y":24.5},{"x":18867,"y":24},{"x":18642,"y":22},{"x":19217,"y":20.5},{"x":18602,"y":17.5},{"x":18644,"y":17},{"x":18440,"y":14},{"x":19195,"y":14.5},{"x":19216,"y":13},{"x":19196,"y":12},{"x":18652,"y":12.5},{"x":18680,"y":12.5},{"x":18861,"y":12.5},{"x":18425,"y":11},{"x":18443,"y":10.5},{"x":18833,"y":10},{"x":18862,"y":10},{"x":19018,"y":10.5},{"x":19018,"y":9},{"x":19040,"y":8.5},{"x":19041,"y":9},{"x":18468,"y":9},{"x":18543,"y":9.5},{"x":18623,"y":8.5},{"x":19180,"y":9.5},{"x":19173,"y":8.5},{"x":19201,"y":8.5},{"x":19202,"y":7},{"x":19214,"y":8},{"x":19220,"y":7.5},{"x":19177,"y":7},{"x":19178,"y":5.5},{"x":19312,"y":6},{"x":18640,"y":7},{"x":18648,"y":7.5},{"x":18655,"y":7},{"x":18645,"y":5.5},{"x":18662,"y":6},{"x":18665,"y":4.5},{"x":18953,"y":7},{"x":18955,"y":6},{"x":18957,"y":5.5},{"x":18510,"y":5.5},{"x":18490,"y":5},
{"x":20076,"y":58.5},{"x":19768,"y":54.5},{"x":19767,"y":48.5},{"x":19583,"y":39.5},{"x":19797,"y":32.5},{"x":19825,"y":32.5},{"x":19755,"y":31},{"x":20076,"y":30.5},{"x":19917,"y":29.5},{"x":20031,"y":27.5},{"x":19696,"y":26.5},{"x":20032,"y":25.5},{"x":19560,"y":23.5},{"x":19821,"y":23},{"x":20314,"y":20.5},{"x":20382,"y":19},{"x":20346,"y":16.5},{"x":19689,"y":17},{"x":19676,"y":15},{"x":19784,"y":15},{"x":19872,"y":14.5},{"x":19820,"y":13.5},{"x":19917,"y":13.5},{"x":19716,"y":12},{"x":19695,"y":10.5},{"x":19874,"y":11},{"x":19581,"y":10},{"x":19753,"y":9.5},{"x":19803,"y":9.5},{"x":19670,"y":9},{"x":19705,"y":9},{"x":19930,"y":8},{"x":19681,"y":7.5},{"x":19695,"y":7.5},{"x":19716,"y":7.5},{"x":19760,"y":7.5},{"x":19781,"y":8},{"x":19563,"y":7.5},{"x":19643,"y":6.5},{"x":19828,"y":7},{"x":19545,"y":6},{"x":19430,"y":5},{"x":19441,"y":14.5},{"x":19441,"y":12},{"x":19440,"y":10},{"x":19442,"y":8.5},{"x":19439,"y":8},{"x":20313,"y":8},{"x":20315,"y":7.5},{"x":20312,"y":7},{"x":20001,"y":5.5},
{"x":18835,"y":5},{"x":18845,"y":5},{"x":18858,"y":4.5},{"x":19700,"y":5},{"x":19710,"y":4.5},{"x":19725,"y":5},{"x":19735,"y":4.5},{"x":19790,"y":5},{"x":19800,"y":4.5},{"x":19810,"y":5},{"x":19840,"y":4.5},{"x":19860,"y":5},{"x":19880,"y":4.5},{"x":19890,"y":5},{"x":20050,"y":4.5},{"x":20060,"y":5},{"x":20070,"y":4.5},{"x":20080,"y":4.5},{"x":20250,"y":4.5},{"x":20260,"y":4.5},{"x":20270,"y":4},{"x":20320,"y":4.5},{"x":20330,"y":4},{"x":20420,"y":4.5},{"x":19190,"y":4.5},{"x":19205,"y":4},{"x":19210,"y":4.5},{"x":18860,"y":5},{"x":18870,"y":4.5},{"x":18880,"y":4},{"x":18760,"y":4.5},{"x":18770,"y":4},{"x":18700,"y":4.5},{"x":18620,"y":4.5},{"x":18600,"y":4.5},{"x":18560,"y":4},{"x":18470,"y":4.5},{"x":18450,"y":4}
]},
"mark": {"type": "point", "shape": "circle", "filled": false, "stroke": "black", "strokeWidth": 1, "size": 16, "opacity": 1, "clip": true},
"encoding": {
"x": {"field": "x", "type": "quantitative", "title": "Genomic regions (1000bp windows)", "scale": {"domain": [16340, 20610], "nice": false, "zero": false},
"axis": {"values": [17000, 18000, 19000, 20000], "format": "d", "grid": false, "labelFontSize": 11.5, "labelColor": "black", "labelFont": "Liberation Sans", "labelBaseline": "alphabetic", "labelPadding": 13.5, "labelFlush": false, "labelOverlap": false, "tickSize": 6, "tickColor": "black", "tickWidth": 1, "domainColor": "black", "domainWidth": 1, "titleFontSize": 18.5, "titleFontWeight": "normal", "titleColor": "black", "titleFont": "Liberation Sans", "titleX": 523, "titleY": 38, "titleBaseline": "alphabetic", "titleAlign": "center"}},
"y": {"field": "y", "type": "quantitative", "title": "Counts (average of replicates T01−T02)", "scale": {"domain": [-4, 104], "nice": false, "zero": false},
"axis": {"values": [0, 20, 40, 60, 80, 100], "grid": false, "labelFontSize": 11.5, "labelColor": "black", "labelFont": "Liberation Sans", "labelAngle": -90, "labelAlign": "center", "labelBaseline": "alphabetic", "labelPadding": 7, "labelFlush": false, "labelOverlap": false, "tickSize": 6, "tickColor": "black", "tickWidth": 1, "domainColor": "black", "domainWidth": 1, "titleFontSize": 18.5, "titleFontWeight": "normal", "titleColor": "black", "titleFont": "Liberation Sans", "titleAngle": -90, "titleX": -29, "titleY": 373.5, "titleBaseline": "alphabetic", "titleAlign": "center"}}
}},
{"data": {"values": [{"top": 104}]},
"mark": {"type": "rule", "color": "black", "strokeWidth": 1},
"encoding": {"y": {"field": "top", "type": "quantitative", "title": "Counts (average of replicates T01−T02)"}}}
]
}
